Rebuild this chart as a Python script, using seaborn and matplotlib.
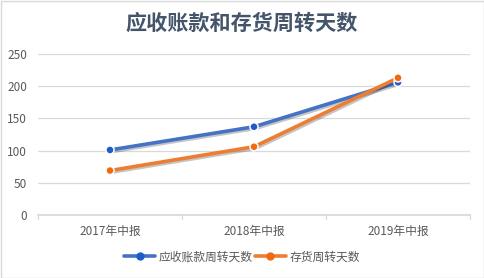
import matplotlib
matplotlib.use("Agg")
import matplotlib.pyplot as plt
import matplotlib.patheffects as pe
import seaborn as sns
import pandas as pd

categories = ["2017年中报", "2018年中报", "2019年中报"]
receivable_days = [101, 137, 206]
inventory_days = [69, 106, 213]
series_names = ["应收账款周转天数", "存货周转天数"]
yticks = [0, 50, 100, 150, 200, 250]

sns.set_theme(style="white")
plt.rcParams['font.family'] = ['Noto Sans CJK SC', 'DejaVu Sans']

df = pd.DataFrame({
    "cat": categories * 2,
    "x": list(range(len(categories))) * 2,
    "val": receivable_days + inventory_days,
    "series": [series_names[0]] * 3 + [series_names[1]] * 3,
})

fig = plt.figure(figsize=(4.84, 2.78), dpi=100)
ax = fig.add_axes([38/484, 1 - 215/278, 432/484, (215-54)/278])

palette = {series_names[0]: "#4472C4", series_names[1]: "#ED7D31"}
marker_fill = {series_names[0]: "#1F5CC8", series_names[1]: "#F06A12"}
sns.lineplot(data=df, x="x", y="val", hue="series", palette=palette, ax=ax,
             linewidth=2.6, legend=False, sort=False)
for line in ax.get_lines():
    line.set_path_effects([pe.SimpleLineShadow(offset=(1, -1.2), alpha=0.25), pe.Normal()])
sns.scatterplot(data=df, x="x", y="val", hue="series", palette=marker_fill, ax=ax,
                s=34, edgecolor="white", linewidth=1.1, legend=False, zorder=5)

ax.set_xlim(-0.5, 2.5)
ax.set_ylim(0, 250)
ax.set_yticks(yticks)
ax.set_yticklabels([str(v) for v in yticks])
ax.set_xticks(range(len(categories)))
ax.set_xticklabels(categories)
ax.set_xlabel("")
ax.set_ylabel("")
ax.grid(axis="y", color="#D9D9D9", linewidth=0.9)
ax.grid(axis="x", visible=False)
for s in ["top", "right", "left"]:
    ax.spines[s].set_visible(False)
ax.spines["bottom"].set_color("#D9D9D9")
ax.tick_params(axis="y", length=0, pad=8, labelsize=8.5, labelcolor="#595959")
ax.tick_params(axis="x", length=0, pad=7, labelsize=8.5, labelcolor="#595959")
for b in [-0.5, 0.5, 1.5, 2.5]:
    ax.plot([b, b], [0, -6], color="#D9D9D9", lw=0.9, clip_on=False, transform=ax.transData)

fig.text(0.5, 1 - 23/278, "应收账款和存货周转天数", ha="center", va="center",
         fontsize=15.2, fontweight="bold", color="#44546A")

from matplotlib.lines import Line2D
handles = [Line2D([], [], color=palette[n], lw=2.6, marker="o", markersize=5,
                  markerfacecolor=marker_fill[n], markeredgecolor=marker_fill[n]) for n in series_names]
fig.legend(handles, series_names, loc="center", bbox_to_anchor=(0.5, 1 - 257/278),
           ncol=2, frameon=False, fontsize=8.5, labelcolor="#595959",
           handlelength=2.6, handletextpad=0.3, columnspacing=0.2)

border = plt.Rectangle((0.5/484, 0.5/278), 1 - 1/484, 1 - 1/278, transform=fig.transFigure,
                       fill=False, edgecolor="#D9D9D9", lw=1)
fig.patches.append(border)

fig.savefig("out.png", dpi=100)
